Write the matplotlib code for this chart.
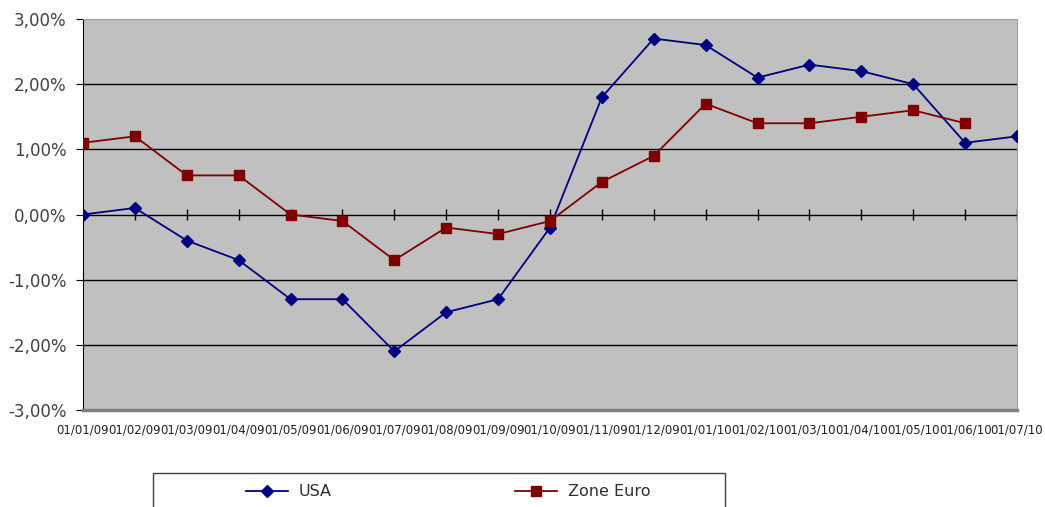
import numpy as np
import matplotlib.pyplot as plt
from matplotlib.ticker import FuncFormatter
from matplotlib.patches import Rectangle

# dates (categories)
dates = ['01/01/09', '01/02/09', '01/03/09', '01/04/09', '01/05/09', '01/06/09',
         '01/07/09', '01/08/09', '01/09/09', '01/10/09', '01/11/09', '01/12/09',
         '01/01/10', '01/02/10', '01/03/10', '01/04/10', '01/05/10', '01/06/10',
         '01/07/10']

usa = [0.0, 0.1, -0.4, -0.7, -1.3, -1.3, -2.1, -1.5, -1.3, -0.2, 1.8, 2.7,
       2.6, 2.1, 2.3, 2.2, 2.0, 1.1, 1.2]
zone_euro = [1.1, 1.2, 0.6, 0.6, 0.0, -0.1, -0.7, -0.2, -0.3, -0.1, 0.5, 0.9,
             1.7, 1.4, 1.4, 1.5, 1.6, 1.4]

x = np.arange(len(dates))

fig = plt.figure(figsize=(10.45, 5.07), dpi=100)
ax = fig.add_axes([83/1045, 1-410/507, (1017-83)/1045, (410-19)/507])
ax.set_facecolor('#C0C0C0')

for yv in [-2, -1, 0, 1, 2]:
    ax.axhline(yv, color='black', linewidth=1, zorder=1)

# small category ticks on the zero line
ax.vlines(x, -0.08, 0.08, color='black', linewidth=1, zorder=1)

ax.plot(x, usa, color='#000080', marker='D', markersize=6, linewidth=1.3,
        label='USA', zorder=3)
ax.plot(x[:len(zone_euro)], zone_euro, color='#800000', marker='s',
        markersize=7, linewidth=1.3, label='Zone Euro', zorder=3)

ax.set_xlim(0, len(dates) - 1)
ax.set_ylim(-3, 3)
ax.set_yticks([-3, -2, -1, 0, 1, 2, 3])
ax.yaxis.set_major_formatter(FuncFormatter(lambda v, p: ('%.2f%%' % v).replace('.', ',')))
ax.tick_params(axis='y', labelsize=12, labelcolor='#404040', length=5,
               direction='out', color='black', pad=7)
ax.set_xticks(x)
ax.set_xticklabels(dates)
ax.tick_params(axis='x', labelsize=8.5, length=0, pad=10, labelcolor='#202020')

ax.spines['left'].set_color('black')
for s in ['top', 'right']:
    ax.spines[s].set_color('#A0A0A0')
ax.spines['bottom'].set_color('#808080')
ax.spines['bottom'].set_linewidth(2.5)

# legend box (cut by the bottom edge, as in the original)
fig.patches.append(Rectangle((153/1045, -0.05), (725-153)/1045, 1-473/507 + 0.05,
                             transform=fig.transFigure, facecolor='white',
                             edgecolor='#404040', linewidth=1))
leg = fig.legend(loc='center left', ncol=2, bbox_to_anchor=(238/1045, 1-492/507),
                 fontsize=11.5, frameon=False, borderpad=0, handlelength=2.6,
                 handletextpad=0.7, columnspacing=11.5)
for t in leg.get_texts():
    t.set_color('#303030')

fig.savefig('out.png', dpi=100)
